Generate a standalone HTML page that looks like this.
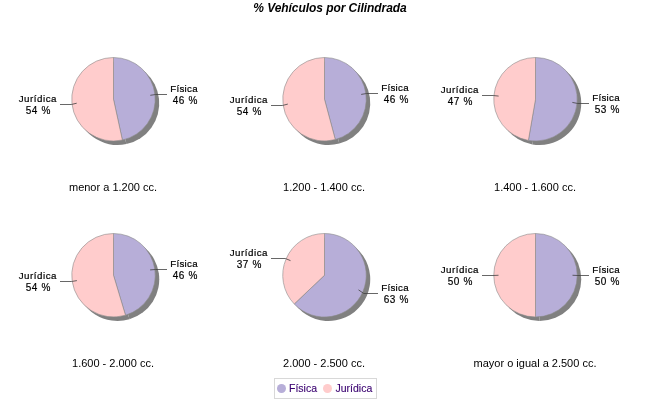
<!DOCTYPE html>
<html><head><meta charset="utf-8"><style>
html,body{margin:0;padding:0;background:#fff;}
svg{display:block;will-change:transform;}
text{font-family:"Liberation Sans",sans-serif;}
.title{font-size:12px;font-weight:bold;font-style:italic;fill:#000;}
.sub{font-size:11px;fill:#000;}
.lab{font-size:9.5px;fill:#000;stroke:#000;stroke-width:0.18px;letter-spacing:0.6px;word-spacing:1px;}
.leg{font-size:10.5px;fill:#3a0070;stroke:#3a0070;stroke-width:0.12px;}
</style></head><body>
<svg width="650" height="400" viewBox="0 0 650 400">
<rect width="650" height="400" fill="#fff"/>
<text x="330" y="12" class="title" style="letter-spacing:-0.06px" text-anchor="middle">% Vehículos por Cilindrada</text>
<path d="M117.5,103.25 L117.5,61.5 A41.75,41.75 0 0 1 126.39,144.04 Z" fill="#808080"/>
<path d="M117.5,103.25 L126.39,144.04 A41.75,41.75 0 1 1 117.5,61.5 Z" fill="#808080"/>
<path d="M113.5,99.25 L113.5,57.5 A41.75,41.75 0 0 1 122.39,140.04 Z" fill="#B7AED8" stroke="#8a8a8a" stroke-width="0.6"/>
<path d="M113.5,99.25 L122.39,140.04 A41.75,41.75 0 1 1 113.5,57.5 Z" fill="#FFCCCC" stroke="#8a8a8a" stroke-width="0.6"/>
<polyline points="76.71,103.21 71.24,104.50 60.00,104.50" fill="none" stroke="#404040" stroke-width="0.8"/>
<polyline points="150.29,95.29 155.76,94.50 167.00,94.50" fill="none" stroke="#404040" stroke-width="0.8"/>
<path d="M328.5,103.25 L328.5,61.5 A41.75,41.75 0 0 1 339.31,143.58 Z" fill="#808080"/>
<path d="M328.5,103.25 L339.31,143.58 A41.75,41.75 0 1 1 328.5,61.5 Z" fill="#808080"/>
<path d="M324.5,99.25 L324.5,57.5 A41.75,41.75 0 0 1 335.31,139.58 Z" fill="#B7AED8" stroke="#8a8a8a" stroke-width="0.6"/>
<path d="M324.5,99.25 L335.31,139.58 A41.75,41.75 0 1 1 324.5,57.5 Z" fill="#FFCCCC" stroke="#8a8a8a" stroke-width="0.6"/>
<polyline points="287.82,104.08 282.36,105.50 271.00,105.50" fill="none" stroke="#404040" stroke-width="0.8"/>
<polyline points="361.18,94.42 366.64,93.50 378.00,93.50" fill="none" stroke="#404040" stroke-width="0.8"/>
<path d="M539.5,103.25 L539.5,61.5 A41.75,41.75 0 1 1 532.39,144.39 Z" fill="#808080"/>
<path d="M539.5,103.25 L532.39,144.39 A41.75,41.75 0 0 1 539.5,61.5 Z" fill="#808080"/>
<path d="M535.5,99.25 L535.5,57.5 A41.75,41.75 0 1 1 528.39,140.39 Z" fill="#B7AED8" stroke="#8a8a8a" stroke-width="0.6"/>
<path d="M535.5,99.25 L528.39,140.39 A41.75,41.75 0 0 1 535.5,57.5 Z" fill="#FFCCCC" stroke="#8a8a8a" stroke-width="0.6"/>
<polyline points="498.64,96.09 493.16,95.50 482.00,95.50" fill="none" stroke="#404040" stroke-width="0.8"/>
<polyline points="572.36,102.41 577.84,103.50 589.00,103.50" fill="none" stroke="#404040" stroke-width="0.8"/>
<path d="M117.5,279.25 L117.5,237.5 A41.75,41.75 0 0 1 129.50,319.24 Z" fill="#808080"/>
<path d="M117.5,279.25 L129.50,319.24 A41.75,41.75 0 1 1 117.5,237.5 Z" fill="#808080"/>
<path d="M113.5,275.25 L113.5,233.5 A41.75,41.75 0 0 1 125.50,315.24 Z" fill="#B7AED8" stroke="#8a8a8a" stroke-width="0.6"/>
<path d="M113.5,275.25 L125.50,315.24 A41.75,41.75 0 1 1 113.5,233.5 Z" fill="#FFCCCC" stroke="#8a8a8a" stroke-width="0.6"/>
<polyline points="76.89,280.62 71.45,281.50 60.00,281.50" fill="none" stroke="#404040" stroke-width="0.8"/>
<polyline points="150.11,269.88 155.55,269.50 167.00,269.50" fill="none" stroke="#404040" stroke-width="0.8"/>
<path d="M328.5,279.25 L328.5,237.5 A41.75,41.75 0 1 1 298.22,307.99 Z" fill="#808080"/>
<path d="M328.5,279.25 L298.22,307.99 A41.75,41.75 0 0 1 328.5,237.5 Z" fill="#808080"/>
<path d="M324.5,275.25 L324.5,233.5 A41.75,41.75 0 1 1 294.22,303.99 Z" fill="#B7AED8" stroke="#8a8a8a" stroke-width="0.6"/>
<path d="M324.5,275.25 L294.22,303.99 A41.75,41.75 0 0 1 324.5,233.5 Z" fill="#FFCCCC" stroke="#8a8a8a" stroke-width="0.6"/>
<polyline points="290.50,260.64 285.45,258.50 271.00,258.50" fill="none" stroke="#404040" stroke-width="0.8"/>
<polyline points="358.50,289.86 363.80,293.50 378.00,293.50" fill="none" stroke="#404040" stroke-width="0.8"/>
<path d="M539.5,279.25 L539.5,237.5 A41.75,41.75 0 0 1 539.50,321.00 Z" fill="#808080"/>
<path d="M539.5,279.25 L539.50,321.00 A41.75,41.75 0 0 1 539.5,237.5 Z" fill="#808080"/>
<path d="M535.5,275.25 L535.5,233.5 A41.75,41.75 0 0 1 535.50,317.00 Z" fill="#B7AED8" stroke="#8a8a8a" stroke-width="0.6"/>
<path d="M535.5,275.25 L535.50,317.00 A41.75,41.75 0 0 1 535.5,233.5 Z" fill="#FFCCCC" stroke="#8a8a8a" stroke-width="0.6"/>
<polyline points="498.50,275.25 493.00,275.50 482.00,275.50" fill="none" stroke="#404040" stroke-width="0.8"/>
<polyline points="572.50,275.25 578.00,275.50 589.00,275.50" fill="none" stroke="#404040" stroke-width="0.8"/>
<text x="113.0" y="191" class="sub" text-anchor="middle">menor a 1.200 cc.</text>
<text x="37.86" y="102.00" class="lab" style="letter-spacing:0.52px;font-size:9.75px;stroke-width:0.2px" text-anchor="middle">Jurídica</text>
<text x="38.20" y="114.00" class="lab" style="letter-spacing:0.4px;font-size:10px;word-spacing:0.6px" text-anchor="middle">54 %</text>
<text x="184.09" y="92.00" class="lab" style="letter-spacing:0.28px;font-size:9.75px;stroke-width:0.2px" text-anchor="middle">Física</text>
<text x="185.35" y="104.00" class="lab" style="letter-spacing:0.4px;font-size:10px;word-spacing:0.6px" text-anchor="middle">46 %</text>
<text x="324.0" y="191" class="sub" text-anchor="middle">1.200 - 1.400 cc.</text>
<text x="248.86" y="103.00" class="lab" style="letter-spacing:0.52px;font-size:9.75px;stroke-width:0.2px" text-anchor="middle">Jurídica</text>
<text x="249.20" y="115.00" class="lab" style="letter-spacing:0.4px;font-size:10px;word-spacing:0.6px" text-anchor="middle">54 %</text>
<text x="395.09" y="91.00" class="lab" style="letter-spacing:0.28px;font-size:9.75px;stroke-width:0.2px" text-anchor="middle">Física</text>
<text x="396.35" y="103.00" class="lab" style="letter-spacing:0.4px;font-size:10px;word-spacing:0.6px" text-anchor="middle">46 %</text>
<text x="535.0" y="191" class="sub" text-anchor="middle">1.400 - 1.600 cc.</text>
<text x="459.86" y="93.00" class="lab" style="letter-spacing:0.52px;font-size:9.75px;stroke-width:0.2px" text-anchor="middle">Jurídica</text>
<text x="460.20" y="105.00" class="lab" style="letter-spacing:0.4px;font-size:10px;word-spacing:0.6px" text-anchor="middle">47 %</text>
<text x="606.09" y="101.00" class="lab" style="letter-spacing:0.28px;font-size:9.75px;stroke-width:0.2px" text-anchor="middle">Física</text>
<text x="607.35" y="113.00" class="lab" style="letter-spacing:0.4px;font-size:10px;word-spacing:0.6px" text-anchor="middle">53 %</text>
<text x="113.0" y="367" class="sub" text-anchor="middle">1.600 - 2.000 cc.</text>
<text x="37.86" y="279.00" class="lab" style="letter-spacing:0.52px;font-size:9.75px;stroke-width:0.2px" text-anchor="middle">Jurídica</text>
<text x="38.20" y="291.00" class="lab" style="letter-spacing:0.4px;font-size:10px;word-spacing:0.6px" text-anchor="middle">54 %</text>
<text x="184.09" y="267.00" class="lab" style="letter-spacing:0.28px;font-size:9.75px;stroke-width:0.2px" text-anchor="middle">Física</text>
<text x="185.35" y="279.00" class="lab" style="letter-spacing:0.4px;font-size:10px;word-spacing:0.6px" text-anchor="middle">46 %</text>
<text x="324.0" y="367" class="sub" text-anchor="middle">2.000 - 2.500 cc.</text>
<text x="248.86" y="256.00" class="lab" style="letter-spacing:0.52px;font-size:9.75px;stroke-width:0.2px" text-anchor="middle">Jurídica</text>
<text x="249.20" y="268.00" class="lab" style="letter-spacing:0.4px;font-size:10px;word-spacing:0.6px" text-anchor="middle">37 %</text>
<text x="395.09" y="291.00" class="lab" style="letter-spacing:0.28px;font-size:9.75px;stroke-width:0.2px" text-anchor="middle">Física</text>
<text x="396.35" y="303.00" class="lab" style="letter-spacing:0.4px;font-size:10px;word-spacing:0.6px" text-anchor="middle">63 %</text>
<text x="535.0" y="367" class="sub" text-anchor="middle">mayor o igual a 2.500 cc.</text>
<text x="459.86" y="273.00" class="lab" style="letter-spacing:0.52px;font-size:9.75px;stroke-width:0.2px" text-anchor="middle">Jurídica</text>
<text x="460.20" y="285.00" class="lab" style="letter-spacing:0.4px;font-size:10px;word-spacing:0.6px" text-anchor="middle">50 %</text>
<text x="606.09" y="273.00" class="lab" style="letter-spacing:0.28px;font-size:9.75px;stroke-width:0.2px" text-anchor="middle">Física</text>
<text x="607.35" y="285.00" class="lab" style="letter-spacing:0.4px;font-size:10px;word-spacing:0.6px" text-anchor="middle">50 %</text>
<rect x="274.5" y="378.5" width="102" height="20" fill="#fff" stroke="#d8d8d8" stroke-width="1"/>
<circle cx="281.5" cy="388.5" r="4.5" fill="#B7AED8"/>
<text x="289" y="392" class="leg">Física</text>
<circle cx="327.5" cy="388.5" r="4.5" fill="#FFCCCC"/>
<text x="335.5" y="392" class="leg">Jurídica</text>
</svg>
</body></html>
